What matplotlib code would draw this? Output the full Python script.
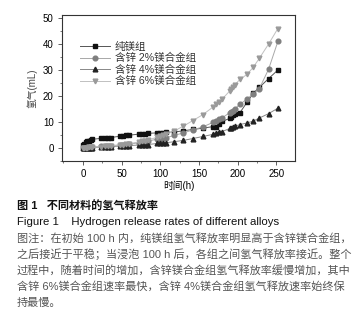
import matplotlib
matplotlib.use("Agg")
import matplotlib.pyplot as plt
from matplotlib.ticker import MultipleLocator

plt.rcParams['font.family'] = ['Liberation Sans', 'Noto Sans CJK SC', 'DejaVu Sans']

hours = [0, 2, 4, 6, 8, 10, 12, 24, 28, 32, 36, 48, 52, 56, 60, 72, 76, 80, 84,
         96, 100, 104, 108, 118, 130, 142, 155, 168, 172, 176, 180, 190, 192,
         194, 196, 203, 212, 220, 228, 240, 252]

pure_mg = [1.0, 1.6, 2.1, 2.5, 2.8, 3.0, 3.3, 3.7, 3.8, 3.9, 4.0, 4.5, 4.7, 4.8,
           4.9, 5.3, 5.4, 5.5, 5.6, 5.8, 5.9, 5.9, 6.0, 6.1, 6.6, 7.1, 7.6, 8.2,
           8.2, 9.2, 10.2, 11.4, 12.0, 12.6, 13.0, 13.6, 17.5, 21.0, 23.3, 26.7, 30.0]
zn2 = [0.0, 0.1, 0.1, 0.2, 0.2, 0.2, 0.3, 0.6, 0.7, 0.8, 0.8, 1.1, 1.2, 1.3, 1.4,
       2.0, 2.2, 2.4, 2.6, 3.4, 3.6, 3.8, 4.0, 4.8, 5.8, 6.9, 8.1, 9.8, 10.5,
       11.0, 11.6, 13.6, 14.0, 14.4, 14.9, 16.8, 18.8, 20.8, 22.8, 30.3, 41.0]
zn4 = [0.0, 0.0, 0.0, 0.1, 0.1, 0.1, 0.1, 0.3, 0.4, 0.4, 0.5, 0.7, 0.8, 0.8, 0.9,
       1.1, 1.2, 1.3, 1.3, 1.7, 1.8, 1.9, 2.0, 2.4, 2.9, 3.6, 4.4, 5.2, 5.6,
       6.0, 6.3, 7.5, 7.8, 8.0, 8.3, 9.0, 9.6, 10.3, 11.5, 13.2, 15.3]
zn6 = [0.0, 0.1, 0.1, 0.1, 0.2, 0.2, 0.2, 0.5, 0.6, 0.7, 0.8, 1.2, 1.3, 1.5, 1.6,
       2.3, 2.5, 2.7, 2.9, 4.2, 4.6, 5.0, 5.3, 6.5, 8.4, 10.5, 12.8, 15.7, 16.8,
       17.8, 18.8, 22.0, 22.8, 23.5, 24.2, 26.4, 28.3, 31.0, 34.5, 40.0, 46.0]

labels = ['纯镁组', '含锌 2%镁合金组', '含锌 4%镁合金组', '含锌 6%镁合金组']
series = [pure_mg, zn2, zn4, zn6]
markers = ['s', 'o', '^', 'v']
marker_colors = ['#111111', '#7f7f7f', '#222222', '#9a9a9a']
line_colors = ['#555555', '#a8a8a8', '#888888', '#c0c0c0']

fig = plt.figure(figsize=(3.54, 3.13), dpi=100)
ax = fig.add_axes([0.175, 0.486, 0.658, 0.466])

for ys, lab, m, mc, lc in zip(series, labels, markers, marker_colors, line_colors):
    ax.plot(hours, ys, color=lc, linewidth=0.7, marker=m, markersize=3.4,
            markerfacecolor=mc, markeredgecolor=mc, label=lab)

ax.set_xlim(-27, 274)
ax.set_ylim(-5, 51.2)
ax.xaxis.set_major_locator(MultipleLocator(50))
ax.xaxis.set_minor_locator(MultipleLocator(25))
ax.yaxis.set_major_locator(MultipleLocator(10))
ax.yaxis.set_minor_locator(MultipleLocator(5))
ax.tick_params(axis='both', which='major', labelsize=7, length=3, width=0.6,
               color='#444444', pad=3)
ax.tick_params(axis='both', which='minor', length=1.5, width=0.5, color='#444444')
for sp in ax.spines.values():
    sp.set_linewidth(0.8)
    sp.set_color('#333333')

ax.set_xlabel('时间(h)', fontsize=7, labelpad=1)
ax.set_ylabel('氢气(mL)', fontsize=7, labelpad=4, color='#444444')

leg = ax.legend(loc='upper left', bbox_to_anchor=(0.06, 0.845), frameon=False,
                fontsize=7.6, handlelength=2.8, handletextpad=0.5,
                labelspacing=0.12, borderaxespad=0)
for t in leg.get_texts():
    t.set_color('#333333')

fig.text(0.048, 0.34, '图 1   不同材料的氢气释放率', fontsize=8, color='#111111',
         fontweight='bold', va='center')
fig.text(0.048, 0.29, 'Figure 1    Hydrogen release rates of different alloys',
         fontsize=8.2, color='#111111', va='center')

note_lines = [
    '图注：在初始 100 h 内，纯镁组氢气释放率明显高于含锌镁合金组，',
    '之后接近于平稳；当浸泡 100 h 后，各组之间氢气释放率接近。整个',
    '过程中，随着时间的增加，含锌镁合金组氢气释放率缓慢增加，其中',
    '含锌 6%镁合金组速率最快，含锌 4%镁合金组氢气释放速率始终保',
    '持最慢。',
]
for i, line in enumerate(note_lines):
    fig.text(0.048, 0.239 - i * 0.0515, line, fontsize=8, color='#555555',
             va='center')

fig.savefig('out.png', dpi=100)
